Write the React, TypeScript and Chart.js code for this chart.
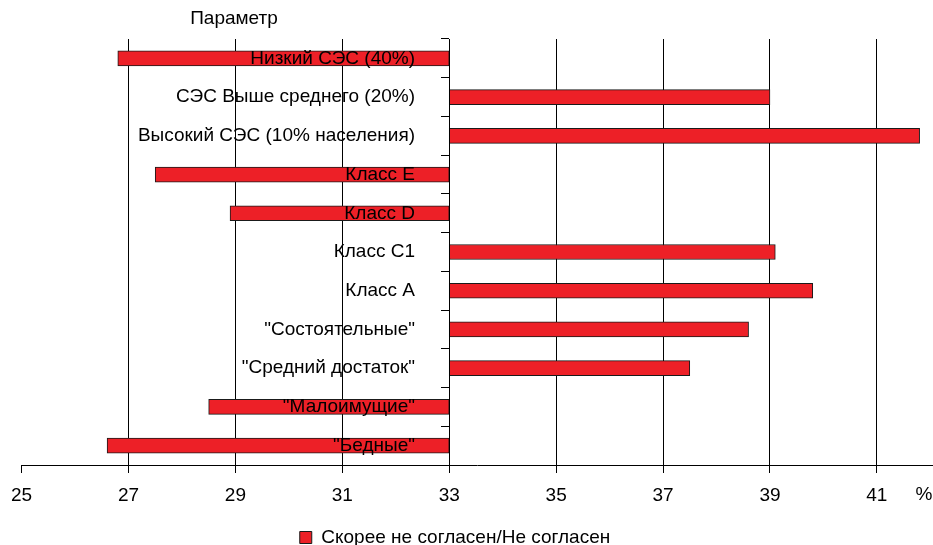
import { useEffect, useRef } from 'react';
import { Chart, registerables } from 'chart.js';

Chart.register(...registerables);

const categories = [
  'Низкий СЭС (40%)',
  'СЭС Выше среднего (20%)',
  'Высокий СЭС (10% населения)',
  'Класс E',
  'Класс D',
  'Класс C1',
  'Класс A',
  '"Состоятельные"',
  '"Средний достаток"',
  '"Малоимущие"',
  '"Бедные"',
];
const values = [26.8, 39.0, 41.8, 27.5, 28.9, 39.1, 39.8, 38.6, 37.5, 28.5, 26.6];
const baseValue = 33;
const labelAnchorValue = 32.36;
const xTickValues = [25, 27, 29, 31, 33, 35, 37, 39, 41];
const unitLabel = '%';
const seriesLabel = 'Скорее не согласен/Не согласен';
const axisTitle = 'Параметр';

const FONT_FAMILY = "'Liberation Sans', Arial, Helvetica, sans-serif";
const FONT_SIZE = 19;

export default function App() {
  const ref = useRef<HTMLCanvasElement>(null);

  useEffect(() => {
    document.body.style.margin = '0';
    document.body.style.overflow = 'hidden';
    document.documentElement.style.overflow = 'hidden';
    if (!ref.current) return;

    const textPlugin = {
      id: 'extraTexts',
      afterLayout(chart: any) {
        if (chart.legend) {
          chart.legend.left -= 21.5;
          chart.legend.right -= 21.5;
        }
      },
      afterDraw(chart: any) {
        const { ctx } = chart;
        ctx.save();
        ctx.font = `${FONT_SIZE}px ${FONT_FAMILY}`;
        ctx.fillStyle = '#000';
        ctx.textAlign = 'center';
        ctx.textBaseline = 'middle';
        ctx.fillText(axisTitle, 234, 19);
        const xs = chart.scales.x;
        const ty = xs.top + 8 + 11 + FONT_SIZE / 2 + 1;
        ctx.fillText(unitLabel, 924, ty);
        ctx.restore();
      },
    };

    const font = { family: FONT_FAMILY, size: FONT_SIZE };

    const chart = new Chart(ref.current, {
      type: 'bar',
      data: {
        labels: categories,
        datasets: [
          {
            label: seriesLabel,
            data: values.map((v) => [baseValue, v]) as any,
            backgroundColor: '#ED2027',
            borderColor: '#1a1a1a',
            borderWidth: 1,
            borderSkipped: false,
            barThickness: 15,
            xAxisID: 'x',
            yAxisID: 'y',
          },
        ],
      },
      options: {
        indexAxis: 'y',
        animation: false,
        responsive: true,
        maintainAspectRatio: false,
        layout: { padding: { left: 20, top: 39, right: 0, bottom: 0 } },
        scales: {
          x: {
            type: 'linear',
            position: 'bottom',
            min: 25,
            max: 42.05,
            afterBuildTicks: (axis: any) => {
              axis.ticks = xTickValues.map((value) => ({ value }));
            },
            afterFit: (axis: any) => {
              axis.height = 59;
            },
            ticks: {
              color: '#000',
              font,
              padding: 11,
              maxRotation: 0,
              autoSkip: false,
            },
            grid: {
              color: (c: any) => {
                const v = c.tick ? c.tick.value : null;
                if (v === 25 || v === 33) return 'rgba(0,0,0,0)';
                return '#000';
              },
              tickColor: '#000',
              tickLength: 8,
              lineWidth: 1,
            },
            border: { color: '#000', width: 1 },
          },
          y: {
            type: 'category',
            position: { x: baseValue } as any,
            ticks: { display: false },
            grid: {
              drawOnChartArea: false,
              tickLength: 8,
              color: '#000',
              offset: true,
            },
            border: { color: '#000', width: 1, z: 2 },
          },
          yLabels: {
            type: 'category',
            axis: 'y',
            position: { x: labelAnchorValue } as any,
            offset: true,
            ticks: {
              color: '#000',
              font,
              padding: 0,
              autoSkip: false,
              z: 1,
            },
            grid: { display: false, drawTicks: false, tickLength: 0 },
            border: { display: false },
          },
        },
        plugins: {
          legend: {
            position: 'bottom',
            labels: {
              boxWidth: 12,
              boxHeight: 12,
              font,
              color: '#000',
              padding: 4,
            },
          },
          tooltip: { enabled: false },
        },
      },
      plugins: [textPlugin],
    });

    return () => chart.destroy();
  }, []);

  return (
    <div style={{ width: 933, height: 557, position: 'relative' }}>
      <canvas ref={ref} />
    </div>
  );
}
